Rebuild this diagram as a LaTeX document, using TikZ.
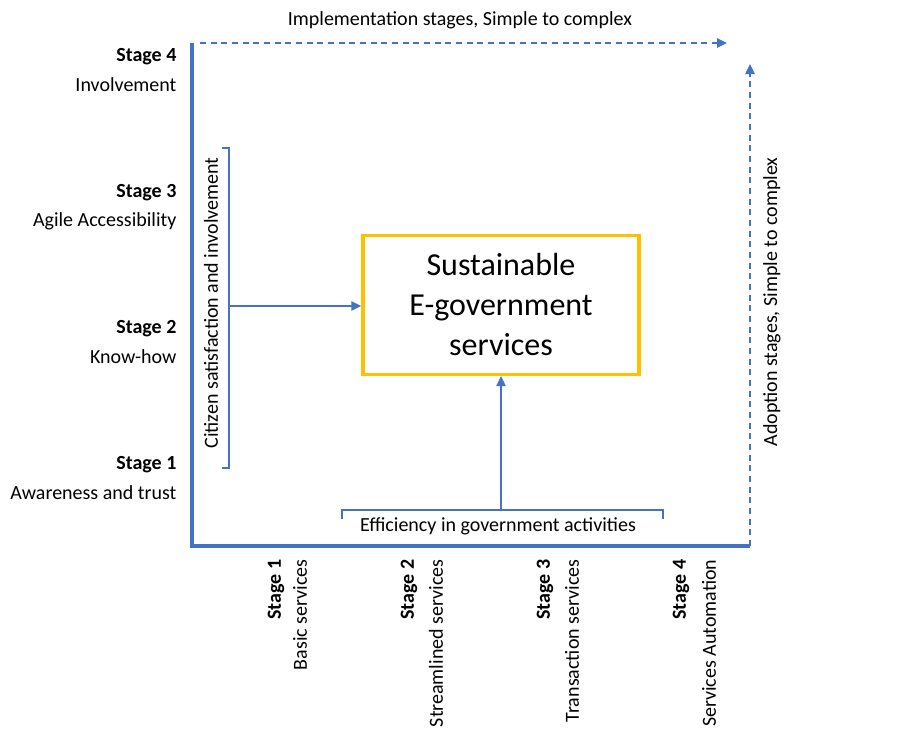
\documentclass[tikz,border=0pt]{standalone}
\usepackage{fontspec}
\setmainfont{Carlito}
\usetikzlibrary{arrows.meta, positioning}

\definecolor{axisblue}{HTML}{4472C4}
\definecolor{boxorange}{HTML}{FFC000}

\begin{document}
\begin{tikzpicture}[
    x=0.75pt, y=-0.75pt,
    stagehead/.style={font=\fontsize{15}{18}\selectfont\bfseries, inner sep=1pt},
    stagetext/.style={font=\fontsize{15}{18}\selectfont, inner sep=1pt},
    axis/.style={draw=axisblue, line width=2.3pt},
    dasharrow/.style={draw=axisblue, line width=1.1pt, dash pattern=on 4.5pt off 3.5pt, -{Triangle[length=7.5pt, width=7pt]}},
    arrow/.style={draw=axisblue, line width=1.1pt, -{Triangle[length=7.5pt, width=7pt]}},
    bracket/.style={draw=axisblue, line width=1.1pt},
    mainbox/.style={rectangle, draw=boxorange, line width=2.6pt, minimum width=207pt, minimum height=104pt, align=center, font=\fontsize{24}{30}\selectfont},
]
\useasboundingbox (0,0) rectangle (907,743);

% Axes
\coordinate (ytop) at (192,43);
\coordinate (origin) at (192,546);
\coordinate (xend) at (750,546);
\draw[axis] (ytop) -- (origin) -- (xend);

% Implementation / adoption directions
\coordinate (impl_start) at (200,43);
\coordinate (impl_end) at (727,43);
\coordinate (adopt_end) at (750,64);
\draw[dasharrow] (impl_start) -- (impl_end);
\draw[dasharrow] (xend) -- (adopt_end);
\node[stagetext] (impl) at (460,20) {Implementation stages, Simple to complex};
\node[stagetext, rotate=90] (adopt) at (772,302) {Adoption stages, Simple to complex};

% Adoption stages (left)
\node[stagehead, anchor=east] (a4) at (178,57) {Stage 4};
\node[stagetext, anchor=east] (a4t) at (178,85) {Involvement};
\node[stagehead, anchor=east] (a3) at (178,193) {Stage 3};
\node[stagetext, anchor=east] (a3t) at (178,221) {Agile Accessibility};
\node[stagehead, anchor=east] (a2) at (178,329) {Stage 2};
\node[stagetext, anchor=east] (a2t) at (178,357) {Know-how};
\node[stagehead, anchor=east] (a1) at (178,465) {Stage 1};
\node[stagetext, anchor=east] (a1t) at (178,493) {Awareness and trust};

% Implementation stages (bottom)
\node[stagehead, rotate=90, anchor=east] (i1) at (276,558) {Stage 1};
\node[stagetext, rotate=90, anchor=east] (i1t) at (300,558) {Basic services};
\node[stagehead, rotate=90, anchor=east] (i2) at (409,558) {Stage 2};
\node[stagetext, rotate=90, anchor=east] (i2t) at (436,558) {Streamlined services};
\node[stagehead, rotate=90, anchor=east] (i3) at (545,558) {Stage 3};
\node[stagetext, rotate=90, anchor=east] (i3t) at (572,558) {Transaction services};
\node[stagehead, rotate=90, anchor=east] (i4) at (681,558) {Stage 4};
\node[stagetext, rotate=90, anchor=east] (i4t) at (709,558) {Services Automation};

% Main box
\node[mainbox] (sus) at (501,305) {Sustainable\\E-government\\services};

% Citizen bracket
\draw[bracket] (222,148) -- (229,148) -- (229,468) -- (222,468);
\node[stagetext, rotate=90] (citizen) at (211,303) {Citizen satisfaction and involvement};
\coordinate (citizen_out) at (229,306);
\draw[arrow] (citizen_out) -- (citizen_out -| sus.west);

% Efficiency bracket
\draw[bracket] (342,519) -- (342,510) -- (663,510) -- (663,519);
\node[stagetext] (effic) at (498,526) {Efficiency in government activities};
\coordinate (effic_out) at (501,510);
\draw[arrow] (effic_out) -- (sus.south);

\end{tikzpicture}
\end{document}
